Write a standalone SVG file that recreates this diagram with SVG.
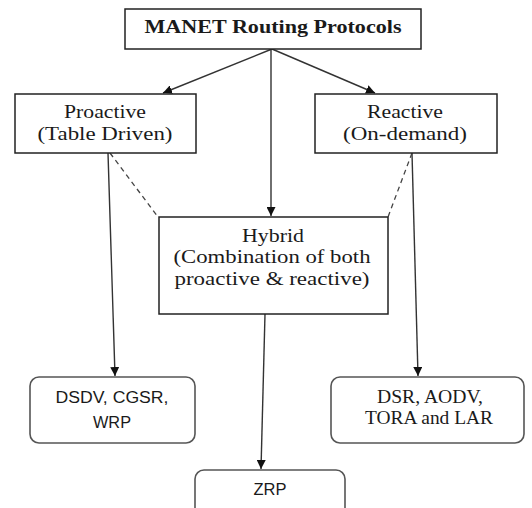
<svg xmlns="http://www.w3.org/2000/svg" width="532" height="508" viewBox="0 0 532 508">
<style>
.box{fill:#fff;stroke:#222;stroke-width:1.5}
.rbox{fill:#fff;stroke:#555;stroke-width:1.6}
.ser{font-family:"Liberation Serif","Times New Roman",serif;fill:#1a1a1a;text-anchor:middle}
.san{font-family:"Liberation Sans",Arial,sans-serif;fill:#1a1a1a;text-anchor:middle}
.ln{stroke:#333;stroke-width:1.4;fill:none}
.dash{stroke:#444;stroke-width:1.3;fill:none;stroke-dasharray:5 4}
</style>
<defs>
<marker id="ah" viewBox="0 0 10 10" refX="10" refY="5" markerWidth="9" markerHeight="9" markerUnits="userSpaceOnUse" orient="auto">
<path d="M0,0 L10,5 L0,10 Z" fill="#111"/>
</marker>
</defs>
<g id="connectors">
<line class="ln" x1="272" y1="49" x2="163" y2="93" marker-end="url(#ah)"/>
<line class="ln" x1="272" y1="49" x2="375" y2="93" marker-end="url(#ah)"/>
<line class="ln" x1="271" y1="49" x2="271" y2="216" marker-end="url(#ah)"/>
<line class="ln" x1="108" y1="153" x2="115" y2="376" marker-end="url(#ah)"/>
<line class="ln" x1="412" y1="153" x2="418" y2="376" marker-end="url(#ah)"/>
<line class="ln" x1="265" y1="314" x2="261" y2="469" marker-end="url(#ah)"/>
<line class="dash" x1="110" y1="153" x2="158" y2="217"/>
<line class="dash" x1="412" y1="153" x2="388" y2="217"/>
</g>
<g id="manet">
<rect class="box" x="125" y="9" width="296" height="40"/>
<text class="ser" x="273" y="33" font-size="19" font-weight="bold" textLength="257" lengthAdjust="spacingAndGlyphs">MANET Routing Protocols</text>
</g>
<g id="proactive">
<rect class="box" x="15" y="94" width="181" height="59"/>
<text class="ser" x="105" y="118" font-size="19" textLength="82" lengthAdjust="spacingAndGlyphs">Proactive</text>
<text class="ser" x="105" y="140" font-size="19" textLength="135" lengthAdjust="spacingAndGlyphs">(Table Driven)</text>
</g>
<g id="reactive">
<rect class="box" x="315" y="94" width="182" height="59"/>
<text class="ser" x="405" y="118" font-size="19" textLength="76" lengthAdjust="spacingAndGlyphs">Reactive</text>
<text class="ser" x="405" y="140" font-size="19" textLength="124" lengthAdjust="spacingAndGlyphs">(On-demand)</text>
</g>
<g id="hybrid">
<rect class="box" x="159" y="217" width="229" height="97"/>
<text class="ser" x="273" y="242" font-size="19" textLength="62" lengthAdjust="spacingAndGlyphs">Hybrid</text>
<text class="ser" x="272" y="263" font-size="19" textLength="197" lengthAdjust="spacingAndGlyphs">(Combination of both</text>
<text class="ser" x="272" y="285" font-size="19" textLength="195" lengthAdjust="spacingAndGlyphs">proactive &amp; reactive)</text>
</g>
<g id="dsdv">
<rect class="rbox" x="30" y="377" width="165" height="66" rx="9"/>
<text class="san" x="112" y="403" font-size="16" textLength="113" lengthAdjust="spacingAndGlyphs">DSDV, CGSR,</text>
<text class="san" x="112" y="428" font-size="16" textLength="38" lengthAdjust="spacingAndGlyphs">WRP</text>
</g>
<g id="dsr">
<rect class="rbox" x="331" y="377" width="193" height="66" rx="9"/>
<text class="ser" x="430" y="403" font-size="18" textLength="106" lengthAdjust="spacingAndGlyphs">DSR, AODV,</text>
<text class="ser" x="429" y="424" font-size="18" textLength="128" lengthAdjust="spacingAndGlyphs">TORA and LAR</text>
</g>
<g id="zrp">
<rect class="rbox" x="195" y="470" width="150" height="60" rx="9"/>
<text class="san" x="270" y="495" font-size="16" textLength="33" lengthAdjust="spacingAndGlyphs">ZRP</text>
</g>
</svg>
